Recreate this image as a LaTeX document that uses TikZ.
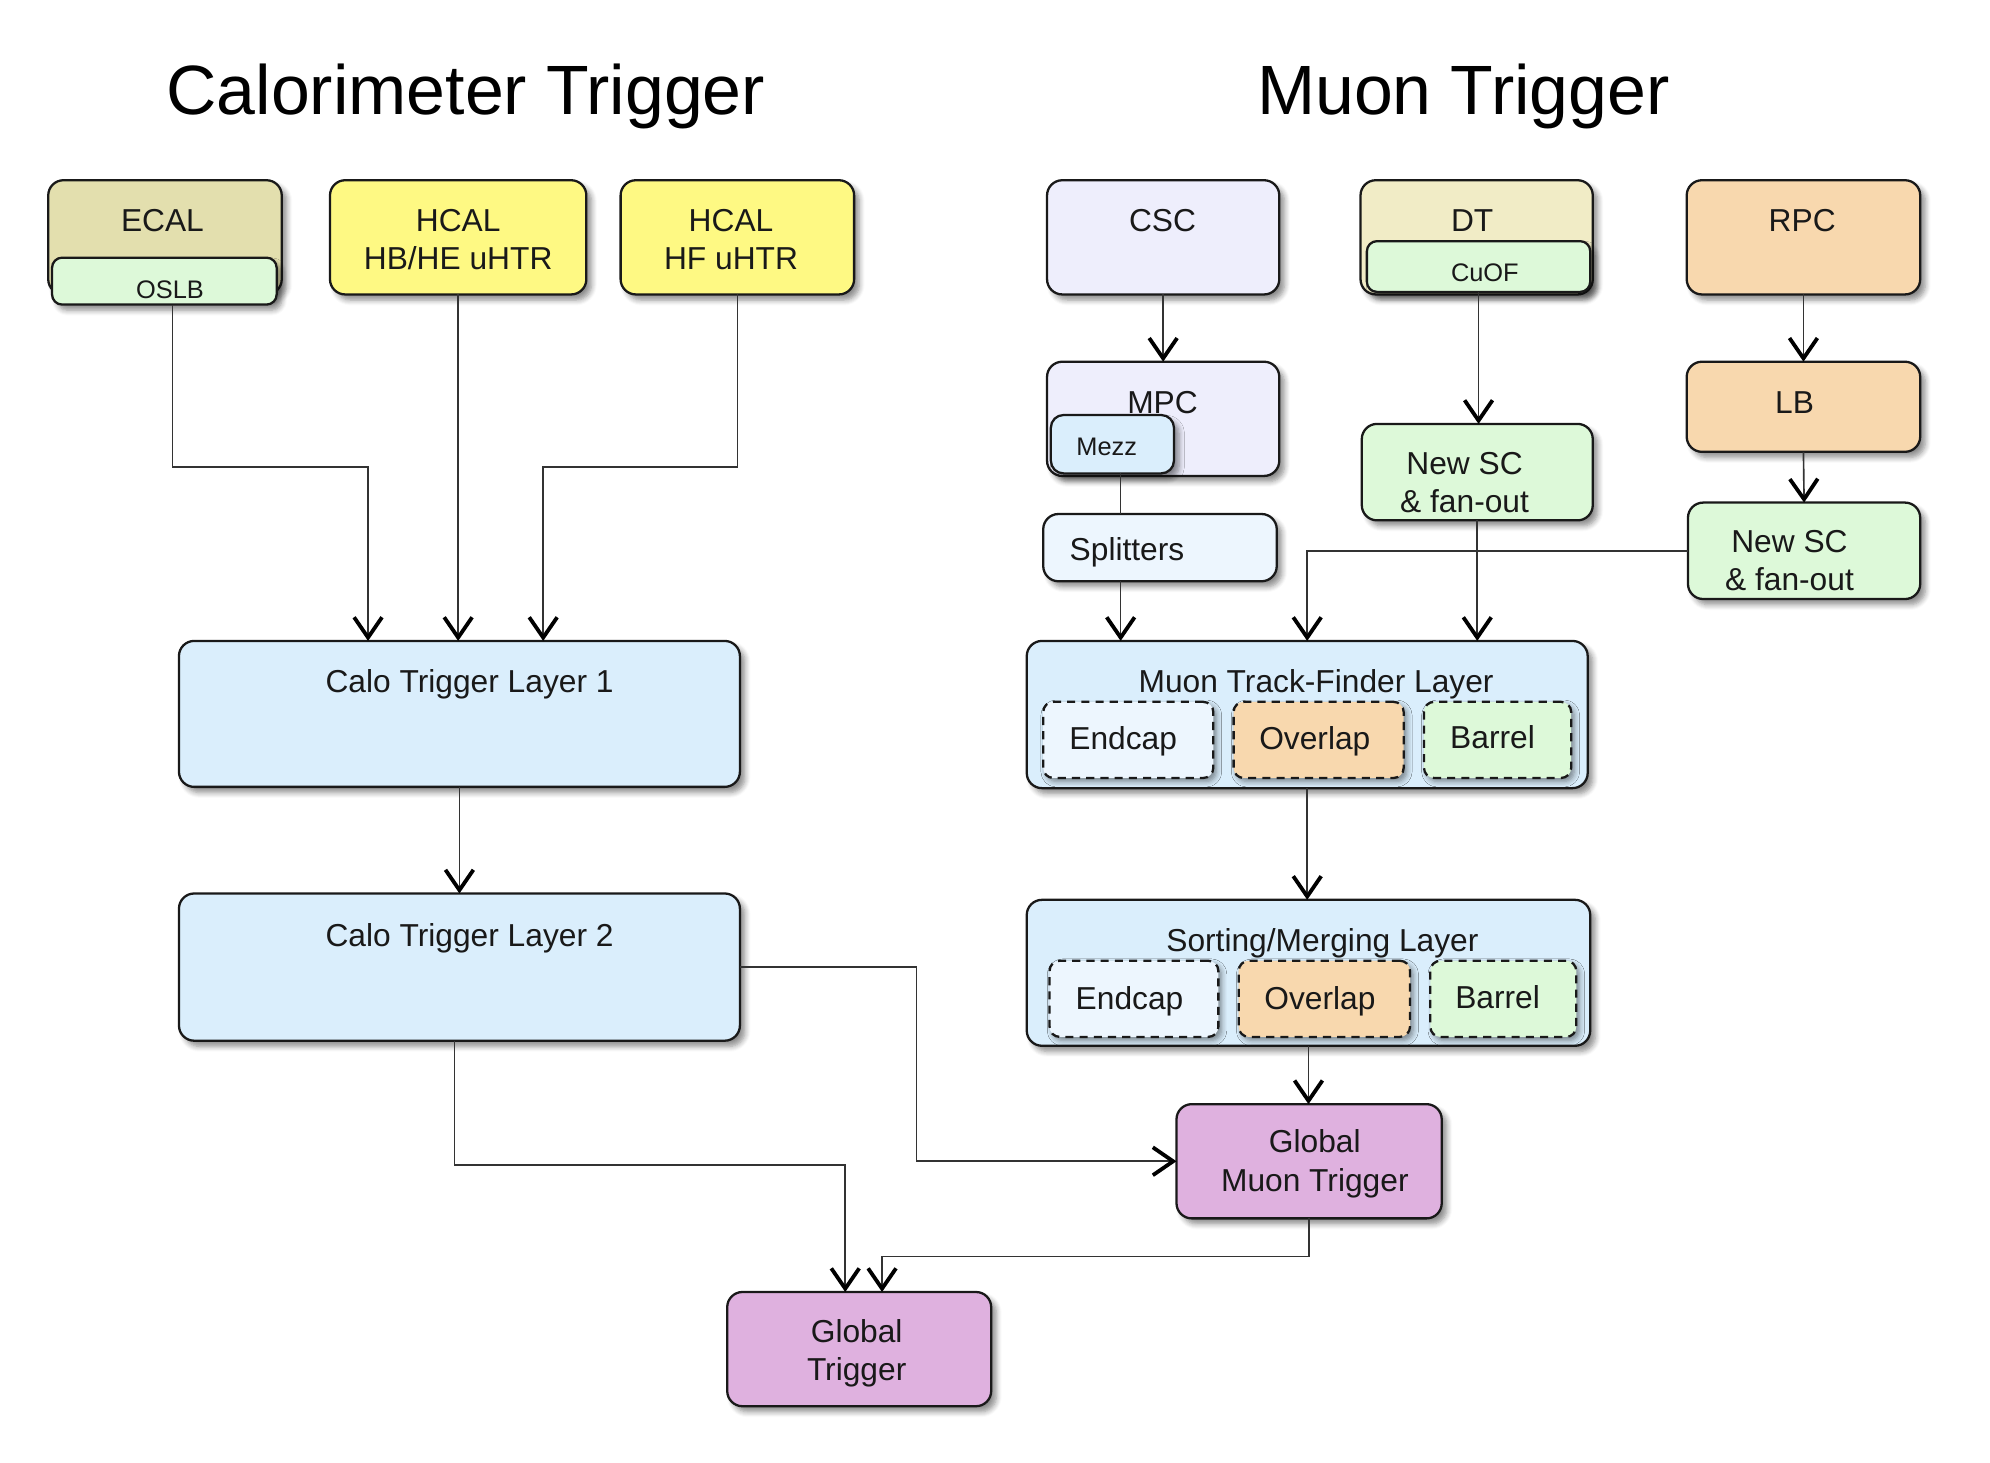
\documentclass[tikz,border=0pt]{standalone}
\usepackage{fontspec}
\setmainfont{Liberation Sans}
\usetikzlibrary{arrows.meta,shadows.blur,calc}
\definecolor{cEcal}{HTML}{E3DFAE}
\definecolor{cGreen}{HTML}{DDF9D9}
\definecolor{cYellow}{HTML}{FEF983}
\definecolor{cLav}{HTML}{EEEEFC}
\definecolor{cDT}{HTML}{F1ECC6}
\definecolor{cPeach}{HTML}{F8D8AE}
\definecolor{cBlue}{HTML}{DAEEFC}
\definecolor{cPale}{HTML}{EDF6FE}
\definecolor{cPurple}{HTML}{DFB1DF}
\begin{document}
\begin{tikzpicture}[x=0.5pt,y=-0.5pt,
  box/.style={draw=black!90, line width=0.9pt, rounded corners=6pt, inner sep=0pt, outer sep=0pt,
    blur shadow={shadow xshift=2pt, shadow yshift=-2.2pt, shadow blur steps=6, shadow opacity=45}},
  subbox/.style={box, dashed, dash pattern=on 3.2pt off 2.4pt, rounded corners=4pt,
    blur shadow={shadow xshift=1.2pt, shadow yshift=-1.4pt, shadow blur steps=5, shadow opacity=25}},
  txt/.style={font=\fontsize{12.5}{15}\selectfont, align=center, inner sep=0pt, text=black!90, yshift=-1pt},
  small/.style={font=\fontsize{10}{12}\selectfont, inner sep=0pt, text=black!90, yshift=-0.5pt},
  title/.style={font=\fontsize{27.5}{32}\selectfont, inner sep=0pt, text=black, yshift=-2pt},
  conn/.style={draw=black!80, line width=0.65pt, -{Straight Barb[length=8pt,width=11pt,line width=1.5pt,color=black]}},
  plain/.style={draw=black!80, line width=0.65pt}
]
\useasboundingbox (0,0) rectangle (1568,1152);

% titles
\node[title] (tcal) at (367,72) {Calorimeter Trigger};
\node[title] (tmu) at (1153,72) {Muon Trigger};

% calorimeter sources
\node[box, fill=cEcal, minimum width=92pt, minimum height=45pt] (ecal) at (130,187) {};
\node[txt] (ecalT) at (128,172) {ECAL};
\node[box, fill=cGreen, rounded corners=4pt, minimum width=88.5pt, minimum height=18.5pt] (oslb) at (129.5,221.5) {};
\node[small] (oslbT) at (134,227) {OSLB};

\node[box, fill=cYellow, minimum width=101pt, minimum height=45pt] (hcal1) at (361,187) {};
\node[txt] (hcal1T) at (361,187) {HCAL\\HB/HE uHTR};
\node[box, fill=cYellow, minimum width=92pt, minimum height=45pt] (hcal2) at (581,187) {};
\node[txt] (hcal2T) at (576,187) {HCAL\\HF uHTR};

% muon sources
\node[box, fill=cLav, minimum width=91.5pt, minimum height=45pt] (csc) at (916.5,187) {};
\node[txt] (cscT) at (916,172) {CSC};
\node[box, fill=cDT, minimum width=91.5pt, minimum height=45pt] (dt) at (1163.5,187) {};
\node[txt] (dtT) at (1160,172) {DT};
\node[box, fill=cGreen, rounded corners=4pt, minimum width=88pt, minimum height=20pt] (cuof) at (1165,210) {};
\node[small] (cuofT) at (1170,214) {CuOF};
\node[box, fill=cPeach, minimum width=92pt, minimum height=45pt] (rpc) at (1421,187) {};
\node[txt] (rpcT) at (1420,172) {RPC};

\node[box, fill=cLav, minimum width=91.5pt, minimum height=45pt] (mpc) at (916.5,330) {};
\node[txt] (mpcT) at (916,315) {MPC};
\node[box, fill=cBlue, rounded corners=5pt, minimum width=48.5pt, minimum height=23pt] (mezz) at (876.5,350) {};
\node[small] (mezzT) at (872,351) {Mezz};
\node[box, fill=cPale, minimum width=92pt, minimum height=26.5pt] (split) at (914,431.5) {};
\node[txt] (splitT) at (888,433) {Splitters};

\node[box, fill=cGreen, minimum width=91pt, minimum height=38pt] (nsc1) at (1164,372) {};
\node[txt] (nsc1T) at (1154,378) {New SC\\\& fan-out};
\node[box, fill=cPeach, minimum width=92pt, minimum height=35.5pt] (lb) at (1421,320.5) {};
\node[txt] (lbT) at (1414,315) {LB};
\node[box, fill=cGreen, minimum width=91.5pt, minimum height=38pt] (nsc2) at (1421.5,434) {};
\node[txt] (nsc2T) at (1410,440) {New SC\\\& fan-out};

% muon layers
\node[box, fill=cBlue, minimum width=221pt, minimum height=58pt] (mtf) at (1030,563) {};
\node[txt] (mtfT) at (1037,537) {Muon Track-Finder Layer};
\node[subbox, fill=cPale, minimum width=67pt, minimum height=30pt] (mtfE) at (889,583) {};
\node[txt] (mtfET) at (885,582) {Endcap};
\node[subbox, fill=cPeach, minimum width=67pt, minimum height=30pt] (mtfO) at (1039,583) {};
\node[txt] (mtfOT) at (1036,582) {Overlap};
\node[subbox, fill=cGreen, minimum width=58pt, minimum height=30pt] (mtfB) at (1180,583) {};
\node[txt] (mtfBT) at (1176,579) {Barrel};

\node[box, fill=cBlue, minimum width=222pt, minimum height=57.5pt] (sml) at (1031,766.5) {};
\node[txt] (smlT) at (1042,741) {Sorting/Merging Layer};
\node[subbox, fill=cPale, minimum width=66.5pt, minimum height=30pt] (smlE) at (893.5,787) {};
\node[txt] (smlET) at (890,787) {Endcap};
\node[subbox, fill=cPeach, minimum width=67.5pt, minimum height=30pt] (smlO) at (1043.5,787) {};
\node[txt] (smlOT) at (1040,787) {Overlap};
\node[subbox, fill=cGreen, minimum width=57.5pt, minimum height=30pt] (smlB) at (1184.5,787) {};
\node[txt] (smlBT) at (1180,784) {Barrel};

\node[box, fill=cPurple, minimum width=104.5pt, minimum height=45pt] (gmt) at (1031.5,915) {};
\node[txt] (gmtT) at (1036,915) {Global\\Muon Trigger};

% calo layers
\node[box, fill=cBlue, minimum width=221pt, minimum height=57.5pt] (calo1) at (362,562.5) {};
\node[txt] (calo1T) at (370,537) {Calo Trigger Layer 1};
\node[box, fill=cBlue, minimum width=221pt, minimum height=58pt] (calo2) at (362,762) {};
\node[txt] (calo2T) at (370,737) {Calo Trigger Layer 2};

\node[box, fill=cPurple, minimum width=104pt, minimum height=45pt] (gt) at (677,1063) {};
\node[txt] (gtT) at (675,1064) {Global\\Trigger};

% connectors - calorimeter
\draw[conn] ([xshift=3.25pt]oslb.south) -- ++(0pt,-64pt) -| ([xshift=-36pt]calo1.north);
\draw[conn] (hcal1.south) -- (hcal1.south |- calo1.north);
\draw[conn] (hcal2.south) -- ++(0pt,-68pt) -| ([xshift=33pt]calo1.north);
\draw[conn] (calo1.south) -- (calo2.north);
\draw[conn] ([xshift=-2pt]calo2.south) -- ++(0pt,-49pt) -| ([xshift=-5.5pt]gt.north);
\draw[conn] (calo2.east) -- ++(69.5pt,0pt) |- (gmt.west);
\draw[conn] (gmt.south) -- ++(0pt,-15pt) -| ([xshift=9pt]gt.north);

% connectors - muon
\draw[conn] (csc.south) -- (mpc.north);
\draw[plain] ([xshift=3.25pt]mezz.south) -- ([xshift=3.25pt]mezz.south |- split.north);
\draw[conn] ([xshift=-15.5pt]split.south) -- ([xshift=-15.5pt]split.south |- mtf.north);
\draw[conn] (cuof.south) -- (cuof.south |- nsc1.north);
\draw[conn] (nsc1.south) -- (nsc1.south |- mtf.north);
\draw[conn] (rpc.south) -- (lb.north);
\draw[conn] (lb.south) -- (nsc2.north);
\draw[conn] (nsc2.west) -| (mtf.north);
\draw[conn] (mtf.south) -- (mtf.south |- sml.north);
\draw[conn] (sml.south) -- (sml.south |- gmt.north);
\end{tikzpicture}
\end{document}
